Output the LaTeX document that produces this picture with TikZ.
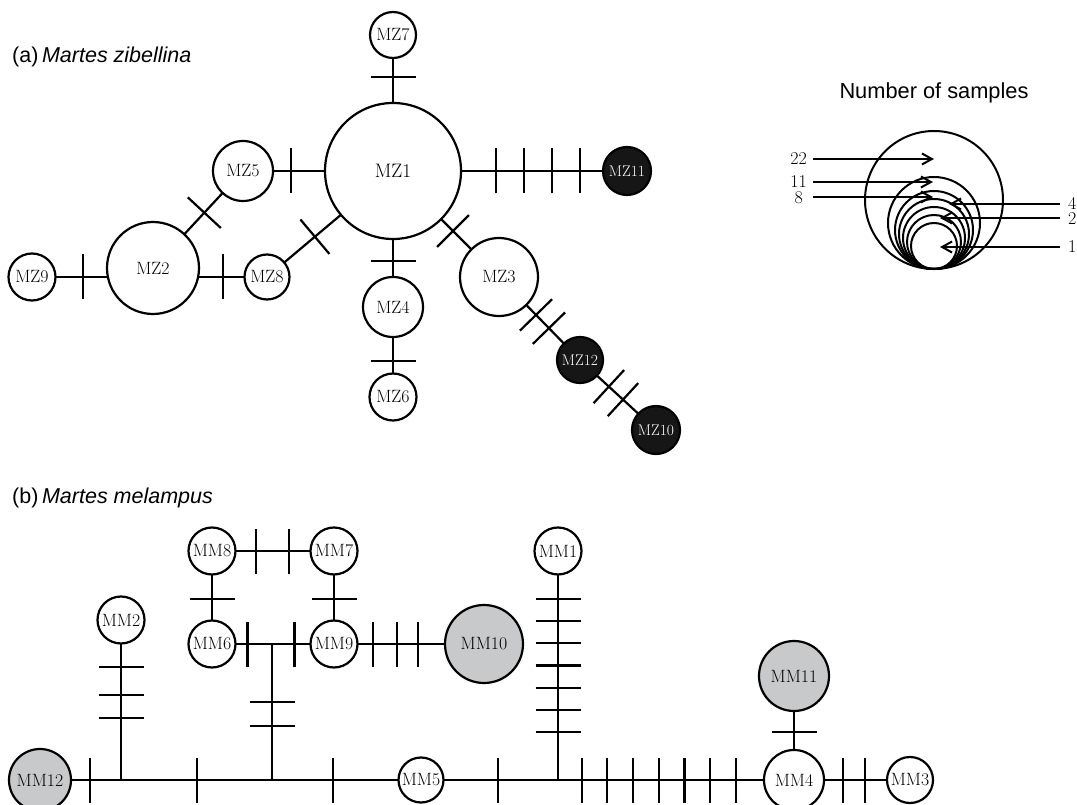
\documentclass[tikz,border=0pt]{standalone}
\usepackage{fontspec}
\newfontfamily\lsans{Liberation Sans}
\usetikzlibrary{arrows.meta,backgrounds,decorations.markings}
\definecolor{hapgray}{RGB}{200,201,203}
\definecolor{hapblack}{RGB}{22,22,22}
\tikzset{
  hap/.style={circle, draw, line width=2.2pt, fill=white, inner sep=0pt, outer sep=0pt,
    font=\fontsize{17.8}{18}\selectfont},
  rad/.style={minimum size=2*#1 pt},
  big/.style={font=\fontsize{19.5}{20}\selectfont},
  blk/.style={fill=hapblack, text=white, font=\fontsize{15.5}{16}\selectfont},
  gry/.style={fill=hapgray},
  link/.style={line width=2.2pt},
  tk/.style={postaction={decorate, decoration={markings,
     mark=at position #1 with {\draw[line width=2.2pt] (0pt,-22.5pt) -- (0pt,22.5pt);}}}},
  ttl/.style={anchor=base west, inner sep=0pt, font=\lsans\fontsize{21.5}{24}\selectfont},
  num/.style={inner sep=0pt, font=\fontsize{18}{20}\selectfont},
  arr/.style={line width=2pt, -{Straight Barb[length=10pt,width=11pt]}},
  lgc/.style={line width=2pt},
}
\begin{document}
\begin{tikzpicture}[x=1pt,y=-1pt]
\useasboundingbox (0,0) rectangle (1077,805);

% ---------- (a) Martes zibellina ----------
\node[ttl] (ta) at (12,63) {(a)\,\textit{Martes zibellina}};

\node[hap, rad=68, big] (mz1) at (393,171) {MZ1};
\node[hap, rad=23] (mz7) at (393,35) {MZ7};
\node[hap, rad=30] (mz5) at (243,171) {MZ5};
\node[hap, rad=24, blk] (mz11) at (627,171) {MZ11};
\node[hap, rad=46] (mz2) at (153,268) {MZ2};
\node[hap, rad=23.5] (mz9) at (32,277) {MZ9};
\node[hap, rad=22.5] (mz8) at (267,277) {MZ8};
\node[hap, rad=30] (mz4) at (393,307) {MZ4};
\node[hap, rad=23.5] (mz6) at (393,397) {MZ6};
\node[hap, rad=39] (mz3) at (499,277) {MZ3};
\node[hap, rad=23, blk] (mz12) at (580,360) {MZ12};
\node[hap, rad=24, blk] (mz10) at (656,430) {MZ10};

\begin{scope}[on background layer]
\draw[link, tk=0.689] (mz1.center) -- (mz7.center);
\draw[link, tk=0.68] (mz1.center) -- (mz5.center);
\draw[link, tk=0.44, tk=0.56, tk=0.68, tk=0.80] (mz1.center) -- (mz11.center);
\draw[link, tk=0.662] (mz1.center) -- (mz4.center);
\draw[link, tk=0.6] (mz4.center) -- (mz6.center);
\draw[link, tk=0.566] (mz1.center) -- (mz3.center);
\draw[link, tk=0.457, tk=0.617] (mz3.center) -- (mz12.center);
\draw[link, tk=0.38, tk=0.566] (mz12.center) -- (mz10.center);
\draw[link, tk=0.62] (mz1.center) -- (mz8.center);
\draw[link, tk=0.43] (mz5.center) -- (mz2.center);
\draw[link, tk=0.421] (mz9.center) -- (mz2.center |- mz9.center);
\draw[link, tk=0.614] (mz2.center |- mz8.center) -- (mz8.center);
\end{scope}

% ---------- legend ----------
\node[anchor=base, inner sep=0pt, font=\lsans\fontsize{21.8}{24}\selectfont] (lt) at (934,99) {Number of samples};
\coordinate (lb) at (934,269);
\foreach \r in {69,46,39,35,31,27,23}
  \draw[lgc] (lb) ++(0,-\r) circle[radius=\r pt];

\node[num, anchor=east] (l22) at (807,159) {22};
\node[num, anchor=east] (l11) at (807,182) {11};
\node[num, anchor=east] (l8) at (803,198) {8};
\node[num, anchor=west] (l4) at (1068,203) {4};
\node[num, anchor=west] (l2) at (1068,219) {2};
\node[num, anchor=west] (l1) at (1068,247) {1};
\coordinate (a22) at (934,159);
\coordinate (a11) at (933,182);
\coordinate (a8) at (933,197);
\coordinate (a4) at (949,204);
\coordinate (a2) at (940,218);
\coordinate (a1) at (940,247);
\draw[arr] (l22.east) ++(6,0) -- (a22);
\draw[arr] (l11.east) ++(6,0) -- (a11);
\draw[arr] (l8.east) ++(10,-1) -- (a8);
\draw[arr] (l4.west) ++(-8,1) -- (a4);
\draw[arr] (l2.west) ++(-8,-1) -- (a2);
\draw[arr] (l1.west) ++(-8,0) -- (a1);

% ---------- (b) Martes melampus ----------
\node[ttl] (tb) at (12,503) {(b)\,\textit{Martes melampus}};

\node[hap, rad=31, gry] (mm12) at (40,780) {MM12};
\node[hap, rad=22.5] (mm5) at (421,780) {MM5};
\node[hap, rad=30] (mm4) at (794,780) {MM4};
\node[hap, rad=23] (mm3) at (910,780) {MM3};
\node[hap, rad=23.5] (mm2) at (121,620) {MM2};
\node[hap, rad=23.5] (mm8) at (212,551) {MM8};
\node[hap, rad=23.5] (mm7) at (334,551) {MM7};
\node[hap, rad=23.5] (mm6) at (212,644) {MM6};
\node[hap, rad=23.5] (mm9) at (334,644) {MM9};
\node[hap, rad=39, gry] (mm10) at (484,644) {MM10};
\node[hap, rad=23.5] (mm1) at (558,551) {MM1};
\node[hap, rad=35, gry] (mm11) at (794,676) {MM11};

\coordinate (j2) at (mm2.center |- mm12.center);
\coordinate (j6) at (272,780);
\coordinate (jm) at (272,644);
\coordinate (j1) at (mm1.center |- mm12.center);

\begin{scope}[on background layer]
\draw[link, tk=0.617] (mm12.center) -- (j2);
\draw[link, tk=0.503] (j2) -- (j6);
\draw[link, tk=0.409] (j6) -- (mm5.center);
\draw[link, tk=0.562] (mm5.center) -- (j1);
\draw[link, tk=0.10, tk=0.209, tk=0.318, tk=0.427, tk=0.536, tk=0.645, tk=0.754] (j1) -- (mm4.center);
\draw[link, tk=0.419, tk=0.612] (mm4.center) -- (mm3.center);
\draw[link, tk=0.294, tk=0.469, tk=0.6125] (mm2.center) -- (j2);
\draw[link, tk=0.397, tk=0.574] (j6) -- (jm);
\draw[link, tk=0.291, tk=0.677] (mm6.center) -- (mm9.center);
\draw[link, tk=0.361, tk=0.631] (mm8.center) -- (mm7.center);
\draw[link, tk=0.516] (mm8.center) -- (mm6.center);
\draw[link, tk=0.516] (mm7.center) -- (mm9.center);
\draw[link, tk=0.26, tk=0.42, tk=0.56] (mm9.center) -- (mm10.center);
\draw[link, tk=0.21, tk=0.307, tk=0.403, tk=0.5, tk=0.597, tk=0.693, tk=0.79] (mm1.center) -- (j1);
\draw[link, tk=0.538] (mm11.center) -- (mm4.center);
\end{scope}
\end{tikzpicture}
\end{document}
